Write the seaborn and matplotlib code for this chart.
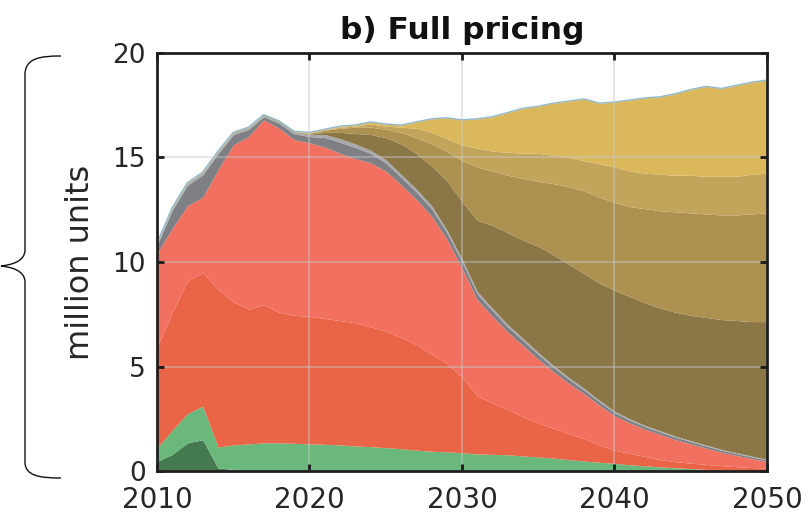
import numpy as np
import matplotlib
matplotlib.use("Agg")
import matplotlib.pyplot as plt
from matplotlib.path import Path
from matplotlib.patches import PathPatch
import seaborn as sns

years = list(range(2010, 2051))

# stacked layers, bottom to top (million units)
dark_green = [0.45, 0.8, 1.35, 1.5, 0.15, 0.08, 0.06, 0.05, 0.04, 0.03,
              0.02, 0.02, 0.02, 0.01, 0.01, 0.01, 0, 0, 0, 0,
              0, 0, 0, 0, 0, 0, 0, 0, 0, 0,
              0, 0, 0, 0, 0, 0, 0, 0, 0, 0, 0]
light_green = [0.65, 1.15, 1.4, 1.6, 1.0, 1.17, 1.24, 1.3, 1.31, 1.3,
               1.28, 1.26, 1.23, 1.19, 1.16, 1.11, 1.07, 1.0, 0.95, 0.92,
               0.88, 0.82, 0.8, 0.78, 0.72, 0.68, 0.62, 0.55, 0.48, 0.42,
               0.37, 0.3, 0.25, 0.2, 0.16, 0.12, 0.08, 0.05, 0.03, 0.02, 0.01]
red = [4.8, 5.65, 6.35, 6.4, 7.55, 6.85, 6.45, 6.6, 6.25, 6.12,
       6.1, 6.02, 5.95, 5.9, 5.73, 5.58, 5.33, 5.05, 4.65, 4.23,
       3.62, 2.78, 2.45, 2.17, 1.88, 1.62, 1.43, 1.25, 1.07, 0.83,
       0.63, 0.55, 0.45, 0.35, 0.29, 0.26, 0.24, 0.21, 0.18, 0.15, 0.14]
salmon = [4.5, 4.0, 3.6, 3.6, 5.7, 7.5, 8.25, 8.85, 8.8, 8.4,
          8.3, 8.2, 8.0, 7.85, 7.85, 7.65, 7.3, 6.95, 6.6, 5.95,
          5.2, 4.6, 4.15, 3.7, 3.4, 3.05, 2.7, 2.4, 2.15, 1.9,
          1.65, 1.45, 1.3, 1.2, 1.05, 0.92, 0.78, 0.64, 0.54, 0.43, 0.3]
gray_dark = [0.4, 0.88, 0.97, 1.07, 0.78, 0.48, 0.34, 0.15, 0.24, 0.28,
             0.3, 0.46, 0.53, 0.53, 0.45, 0.4, 0.36, 0.36, 0.36, 0.32,
             0.32, 0.28, 0.27, 0.25, 0.25, 0.23, 0.21, 0.2, 0.18, 0.17,
             0.15, 0.14, 0.13, 0.12, 0.12, 0.11, 0.1, 0.1, 0.09, 0.08, 0.08]
gray_light = [0.05, 0.07, 0.08, 0.08, 0.07, 0.07, 0.06, 0.05, 0.06, 0.07,
              0.1, 0.14, 0.17, 0.17, 0.15, 0.15, 0.14, 0.14, 0.14, 0.13,
              0.13, 0.12, 0.11, 0.11, 0.1, 0.1, 0.09, 0.08, 0.08, 0.07,
              0.07, 0.06, 0.06, 0.06, 0.05, 0.05, 0.05, 0.04, 0.04, 0.04, 0.03]
olive_dark = [0.02] * 10 + [
    0.02, 0.1, 0.3, 0.5, 0.75, 1.05, 1.45, 1.7, 1.9, 2.35,
    2.75, 3.4, 3.97, 4.39, 4.7, 5.07, 5.3, 5.42, 5.49, 5.61,
    5.78, 5.85, 5.86, 5.87, 5.93, 5.99, 6.1, 6.21, 6.32, 6.43, 6.59]
olive_mid = [0.01] * 10 + [
    0.03, 0.1, 0.2, 0.3, 0.35, 0.4, 0.55, 0.75, 1.05, 1.4,
    1.95, 2.55, 2.6, 2.75, 2.95, 3.1, 3.4, 3.7, 3.95, 4.1,
    4.2, 4.3, 4.5, 4.65, 4.8, 4.9, 4.95, 5.0, 5.05, 5.15, 5.2]
olive_light = [0.01] * 10 + [
    0.02, 0.03, 0.05, 0.05, 0.15, 0.15, 0.25, 0.45, 0.55, 0.6,
    0.75, 0.9, 0.95, 1.1, 1.2, 1.35, 1.35, 1.4, 1.45, 1.6,
    1.7, 1.7, 1.7, 1.75, 1.75, 1.8, 1.8, 1.85, 1.85, 1.9, 1.9]
yellow = [0.01] * 10 + [
    0.03, 0.02, 0.05, 0.05, 0.1, 0.1, 0.1, 0.3, 0.65, 1.0,
    1.2, 1.4, 1.65, 1.9, 2.15, 2.25, 2.5, 2.7, 2.95, 2.9,
    3.1, 3.4, 3.6, 3.7, 3.9, 4.1, 4.3, 4.2, 4.35, 4.4, 4.45]

layers = [dark_green, light_green, red, salmon, gray_dark, gray_light,
          olive_dark, olive_mid, olive_light, yellow]
colors = ["#457a50", "#6ab87b", "#ea6447", "#f1705f", "#7f8085", "#a7a8ab",
          "#8b7646", "#ad9150", "#c3a45b", "#dcb85c"]

x_ticks = [2010, 2020, 2030, 2040, 2050]
y_ticks = [0, 5, 10, 15, 20]

sns.set_theme(style="white")
plt.rcParams["font.family"] = ["DejaVu Sans"]

fig = plt.figure(figsize=(8.09, 5.24), dpi=100)
ax = fig.add_axes([0.194, 0.101, 0.754, 0.798])

ax.stackplot(years, *layers, colors=colors, linewidth=0, zorder=1)

total = np.sum(np.array(layers, dtype=float), axis=0)
sns.lineplot(x=years, y=total, ax=ax, color="#8fb8cd", linewidth=1.0, zorder=2)

ax.set_xlim(2010, 2050)
ax.set_ylim(0, 20)
ax.set_xticks(x_ticks)
ax.set_yticks(y_ticks)
ax.set_xticklabels([str(t) for t in x_ticks], fontsize=20, color="#262626")
ax.set_yticklabels([str(t) for t in y_ticks], fontsize=19, color="#262626")
ax.tick_params(direction="in", length=5, width=2, color="#1a1a1a",
               top=True, right=True, bottom=True, left=True)
ax.tick_params(axis="x", pad=11)
ax.tick_params(axis="y", pad=8)
ax.grid(True, color="#c8c8c8", alpha=0.45, linewidth=1.5, zorder=3)
ax.set_axisbelow(False)
for s in ax.spines.values():
    s.set_visible(True)
    s.set_color("#1f1f1f")
    s.set_linewidth(2)
    s.set_zorder(4)

ax.set_title("b) Full pricing", fontsize=22.5, fontweight="bold", pad=10,
             color="#111111")
ax.set_ylabel("million units", fontsize=23, color="#262626")
ax.yaxis.set_label_coords(-0.10, 0.5)

# curly brace on the left margin, in figure pixel coordinates
H = 524.0
def fp(x, y):
    return (x / 809.0, 1 - y / H)

verts = [fp(61, 56), fp(40, 56), fp(25, 58), fp(25, 75),
         fp(25, 250),
         fp(25, 262), fp(10, 265), fp(1, 266),
         fp(10, 267), fp(25, 270), fp(25, 282),
         fp(25, 462),
         fp(25, 476), fp(40, 478), fp(61, 478)]
codes = [Path.MOVETO, Path.CURVE4, Path.CURVE4, Path.CURVE4,
         Path.LINETO,
         Path.CURVE4, Path.CURVE4, Path.CURVE4,
         Path.CURVE4, Path.CURVE4, Path.CURVE4,
         Path.LINETO,
         Path.CURVE4, Path.CURVE4, Path.CURVE4]
brace = PathPatch(Path(verts, codes), transform=fig.transFigure,
                  facecolor="none", edgecolor="#111111", linewidth=1.0)
fig.patches.append(brace)

fig.savefig("out.png", dpi=100)
